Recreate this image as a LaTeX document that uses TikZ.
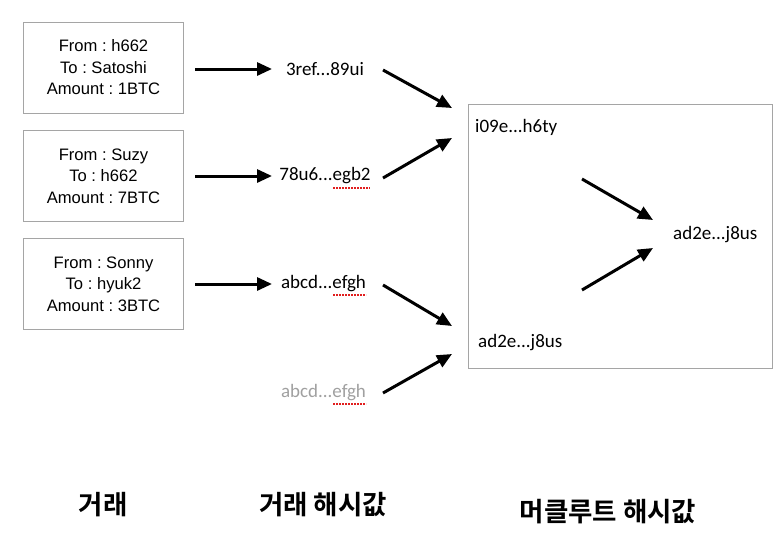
\documentclass[tikz,border=0pt]{standalone}
\usepackage{fontspec}
\setmainfont{Liberation Sans}
\newfontfamily\hashfont{Carlito}
\newfontfamily\krfont{Noto Sans CJK KR}[BoldFont=* Bold]
\usetikzlibrary{arrows.meta}
\frenchspacing
\definecolor{boxgray}{RGB}{165,165,165}
\definecolor{fadegray}{RGB}{160,160,160}
\definecolor{spellred}{RGB}{225,30,30}
\tikzset{
  txbox/.style={draw=boxgray, line width=1pt, minimum width=160pt, minimum height=91pt, inner sep=0pt, align=center, font=\frenchspacing\fontsize{16.6}{21.5}\selectfont},
  hashlbl/.style={inner sep=0pt, font=\hashfont\fontsize{19}{22}\selectfont},
  bigarrow/.style={line width=3pt, -{Triangle[length=15pt,width=13pt]}},
  krlbl/.style={inner sep=0pt, font=\krfont\bfseries\fontsize{26.5}{30}\selectfont},
  squiggle/.style={spellred, dash pattern=on 1.6pt off 1.4pt, line width=1.3pt}
}
\begin{document}
\begin{tikzpicture}[x=1pt,y=-1pt]
\useasboundingbox (0,0) rectangle (784,546);
% transaction boxes
\node[txbox] (t1) at (103.5,67.5) {From : h662\\To : Satoshi\\Amount : 1BTC};
\node[txbox] (t2) at (103.5,176) {From : Suzy\\To : h662\\Amount : 7BTC};
\node[txbox] (t3) at (103.5,284) {From : Sonny\\To : hyuk2\\Amount : 3BTC};
% transaction hashes
\node[hashlbl] (h1) at (325,69) {3ref...89ui};
\node[hashlbl] (h2) at (325,176) {78u6...egb2};
\node[hashlbl] (h3) at (323.5,284) {abcd...efgh};
\node[hashlbl, text=fadegray] (h4) at (323.5,393) {abcd...efgh};
% merkle box
\node[draw=boxgray, line width=1pt, minimum width=304pt, minimum height=264pt, inner sep=0pt] (mk) at (620,236) {};
\node[hashlbl, anchor=west] (m1) at (475,127) {i09e...h6ty};
\node[hashlbl, anchor=west] (m2) at (478,343) {ad2e...j8us};
\node[hashlbl, anchor=west] (mr) at (673,235) {ad2e...j8us};
% spell-check marks
\draw[squiggle] (333,188) -- (370,188);
\draw[squiggle] (333,295) -- (366,295);
\draw[squiggle] (333,404) -- (366,404);
% arrow end points
\coordinate (a1s) at (195,69); \coordinate (a1e) at (272,69);
\coordinate (a2s) at (195,176); \coordinate (a2e) at (272,176);
\coordinate (a3s) at (195,284); \coordinate (a3e) at (272,284);
\coordinate (d1s) at (383,70); \coordinate (d1e) at (452,108);
\coordinate (d2s) at (383,178); \coordinate (d2e) at (452,138);
\coordinate (d3s) at (383,285); \coordinate (d3e) at (452,326);
\coordinate (d4s) at (383,393); \coordinate (d4e) at (452,354);
\coordinate (e1s) at (582,179); \coordinate (e1e) at (653,220);
\coordinate (e2s) at (582,290); \coordinate (e2e) at (653,248);
\draw[bigarrow] (a1s) -- (a1e);
\draw[bigarrow] (a2s) -- (a2e);
\draw[bigarrow] (a3s) -- (a3e);
\draw[bigarrow] (d1s) -- (d1e);
\draw[bigarrow] (d2s) -- (d2e);
\draw[bigarrow] (d3s) -- (d3e);
\draw[bigarrow] (d4s) -- (d4e);
\draw[bigarrow] (e1s) -- (e1e);
\draw[bigarrow] (e2s) -- (e2e);
% column captions
\node[krlbl] (c1) at (103,505) {거래};
\node[krlbl] (c2) at (323,505) {거래 해시값};
\node[krlbl] (c3) at (608,512) {머클루트 해시값};
\end{tikzpicture}
\end{document}
